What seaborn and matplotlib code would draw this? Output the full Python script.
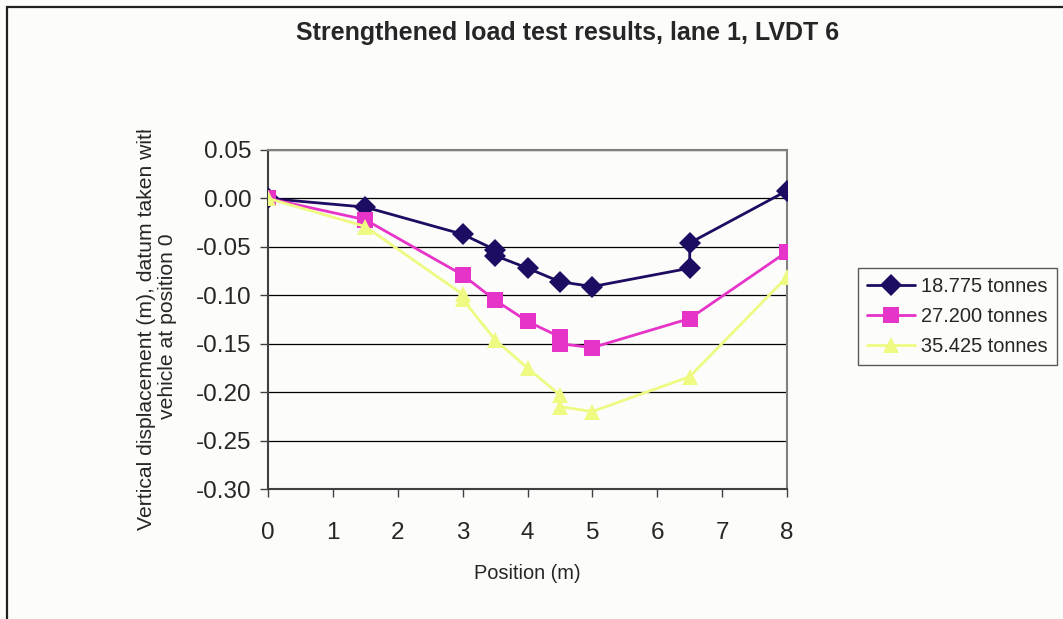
import pandas as pd
import numpy as np
import matplotlib.pyplot as plt
import seaborn as sns
from matplotlib.patches import Rectangle
from matplotlib.transforms import Bbox

# dati
pos_18 = [0, 1.5, 3, 3.5, 3.5, 4, 4.5, 5, 6.5, 6.5, 8]
disp_18 = [0.000, -0.009, -0.037, -0.053, -0.059, -0.072, -0.086, -0.091, -0.072, -0.046, 0.008]

pos_27 = [0, 1.5, 3, 3.5, 4, 4.5, 4.5, 5, 6.5, 8]
disp_27 = [0.000, -0.022, -0.079, -0.105, -0.127, -0.143, -0.150, -0.154, -0.124, -0.055]

pos_35 = [0, 1.5, 3, 3, 3.5, 4, 4.5, 4.5, 5, 6.5, 8]
disp_35 = [0.000, -0.029, -0.099, -0.104, -0.146, -0.175, -0.203, -0.215, -0.220, -0.184, -0.081]

serie = ['18.775 tonnes', '27.200 tonnes', '35.425 tonnes']
colori = ['#1E0B62', '#E633C8', '#EEFA82']
marker = ['D', 's', '^']
y_ticks = [-0.30, -0.25, -0.20, -0.15, -0.10, -0.05, 0.00, 0.05]

df = pd.concat([
    pd.DataFrame({'pos': pos_18, 'disp': disp_18, 'carico': serie[0]}),
    pd.DataFrame({'pos': pos_27, 'disp': disp_27, 'carico': serie[1]}),
    pd.DataFrame({'pos': pos_35, 'disp': disp_35, 'carico': serie[2]}),
], ignore_index=True)

sns.set_style('white')
plt.rcParams['font.family'] = ['Liberation Sans', 'DejaVu Sans']

fig = plt.figure(figsize=(10.63, 6.19), dpi=100, facecolor='#FCFCFA')
ax = fig.add_axes([0.2521, 0.2100, 0.4883, 0.5477])
ax.set_facecolor('#FCFCFA')

# cornice esterna del grafico
fig.patches.append(Rectangle((7 / 1063, -0.1), 1.2, 1 - 7 / 619 + 0.1, transform=fig.transFigure,
                             fill=False, edgecolor='#202020', linewidth=1.6, zorder=0))

sns.lineplot(data=df, x='pos', y='disp', hue='carico', style='carico',
             palette=dict(zip(serie, colori)), markers=dict(zip(serie, marker)),
             dashes=False, sort=False, estimator=None, linewidth=2,
             markersize=11, markeredgewidth=0, ax=ax, zorder=3)

ax.set_xlim(0, 8)
ax.set_ylim(-0.30, 0.05)
ax.set_xticks(range(0, 9))
ax.set_yticks(y_ticks)
ax.set_yticklabels([f'{v:.2f}' for v in y_ticks])
ax.tick_params(axis='both', labelsize=17.5, direction='out', length=6, width=1,
               color='#404040', left=True, bottom=True)
ax.tick_params(axis='x', pad=18)
ax.tick_params(axis='y', pad=6)

ax.yaxis.grid(True, color='black', linewidth=0.9)
ax.xaxis.grid(False)
for s in ['top', 'right']:
    ax.spines[s].set_color('#808080')
    ax.spines[s].set_linewidth(1.5)
for s in ['left', 'bottom']:
    ax.spines[s].set_color('#404040')
    ax.spines[s].set_linewidth(1.5)

ax.set_xlabel('Position (m)', fontsize=14.4, labelpad=14)
ax.set_ylabel('')
# etichetta asse y tagliata in alto come nell'originale
t = fig.text(157 / 1063, 1 - 326 / 619, 'Vertical displacement (m), datum taken with\nvehicle at position 0',
             rotation=90, ha='center', va='center', fontsize=15.2, linespacing=1.15)
t.set_clip_box(Bbox.from_extents(0, 0, 1063, 619 - 130))

fig.suptitle('Strengthened load test results, lane 1, LVDT 6', x=0.5335, y=1 - 33 / 619,
             va='center', fontsize=18, fontweight='bold')

leg = ax.legend(loc='upper left', bbox_to_anchor=(858 / 1063, 1 - 268 / 619),
                bbox_transform=fig.transFigure, fontsize=14.4,
                frameon=True, fancybox=False, edgecolor='#303030', handlelength=2.4,
                borderpad=0.45, labelspacing=0.55, handletextpad=0.3, borderaxespad=0,
                title=None)
leg.get_frame().set_linewidth(1.0)
leg.get_frame().set_facecolor('#FCFCFA')

plt.savefig('out.png', dpi=100, facecolor=fig.get_facecolor())
